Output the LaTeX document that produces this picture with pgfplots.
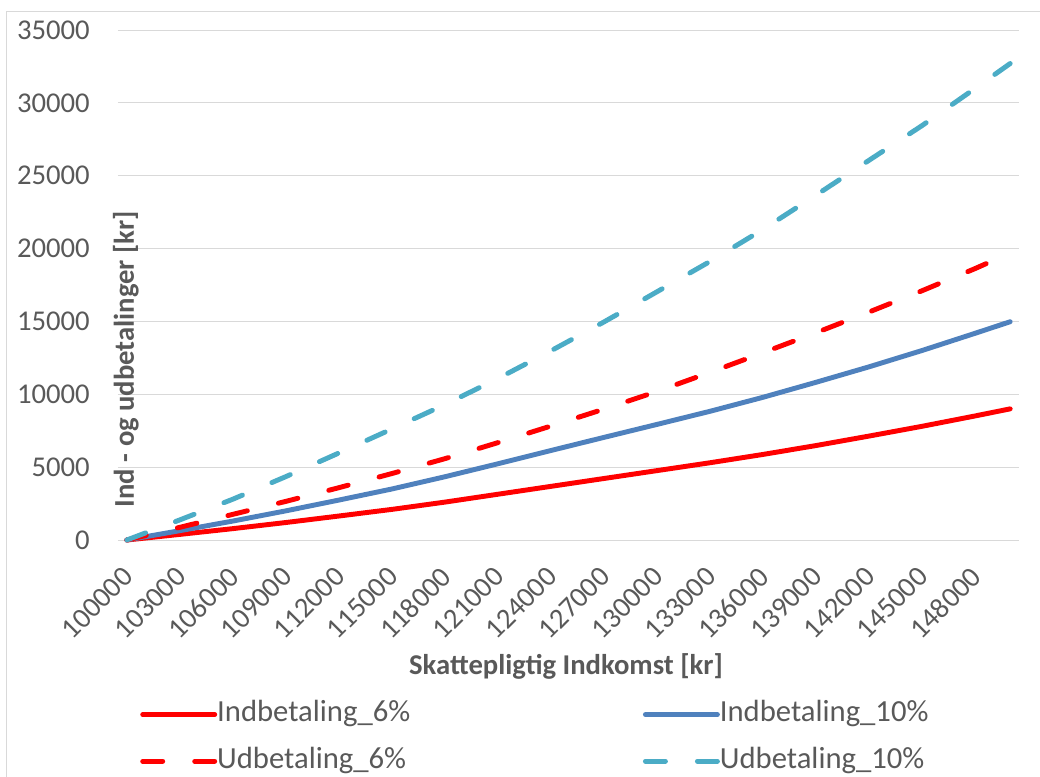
\documentclass[border=0pt]{standalone}
\usepackage{pgfplots}
\pgfplotsset{compat=1.18}
\usepackage{pgfplotstable}
\usepackage{fontspec}
\setmainfont{Carlito}

\definecolor{txt}{HTML}{595959}
\definecolor{gridc}{HTML}{D9D9D9}
\definecolor{ind6}{HTML}{FF0000}
\definecolor{ind10}{HTML}{4F81BD}
\definecolor{udb10}{HTML}{4BACC6}

% Skattepligtig indkomst [kr] mod ind- og udbetalinger [kr]
\pgfplotstableread{
x      I6    I10    U6     U10
100000 0     0      0      0
103000 385   640    870    1380
106000 780   1300   1760   2800
109000 1200  2000   2650   4350
112000 1645  2740   3590   5970
115000 2100  3500   4560   7620
118000 2600  4340   5580   9290
121000 3140  5230   6680   11080
124000 3680  6140   7820   12980
127000 4220  7040   8980   14960
130000 4760  7930   10190  17030
133000 5300  8830   11500  19110
136000 5870  9790   12850  21310
139000 6480  10820  14220  23660
142000 7130  11880  15640  26050
145000 7800  13000  17100  28430
148000 8510  14180  18620  30980
150000 9000  14980  19700  32700
}\betalinger

\begin{document}
\begin{tikzpicture}[x=0.75pt,y=0.75pt]
\begin{axis}[
    width=675.75pt, height=382.5pt, scale only axis,
    xmin=99500, xmax=150500, ymin=0, ymax=35000,
    xtick={100000,103000,106000,109000,112000,115000,118000,121000,124000,127000,130000,133000,136000,139000,142000,145000,148000},
    ytick={0,5000,10000,15000,20000,25000,30000,35000},
    scaled x ticks=false, scaled y ticks=false,
    /pgf/number format/.cd, fixed, precision=0, 1000 sep={}, assume math mode=true,
    /pgfplots/.cd,
    axis line style={draw=none},
    major tick length=0pt,
    ymajorgrids, grid style={gridc, line width=0.75pt},
    tick label style={font=\fontsize{21.5}{24}\selectfont, text=txt, inner sep=0pt},
    xticklabel style={xshift=1pt, yshift=-24pt, rotate=45, anchor=east},
    yticklabel style={anchor=east, xshift=-21pt},
    clip=false,
    legend columns=2,
    legend cell align=left,
    legend image code/.code={\draw[#1] (0pt,0pt) -- (54pt,0pt);},
    legend style={draw=none, fill=none, inner sep=0pt,
        at={(axis description cs:0.0244,-0.3118)}, anchor=north west,
        font=\fontsize{23}{27}\selectfont, text=txt,
        nodes={inner sep=0pt, text height=17pt, text depth=6pt},
        row sep=11.9pt,
        /tikz/every odd column/.append style={column sep=0pt},
        /tikz/every even column/.append style={column sep=174.5pt}},
    every axis plot/.append style={line width=3.7pt, line cap=round, line join=round},
]
\addplot[ind6] table[x=x, y=I6] {\betalinger};
\addlegendentry{Indbetaling\_6\%}
\addplot[ind10] table[x=x, y=I10] {\betalinger};
\addlegendentry{Indbetaling\_10\%}
\addplot[ind6, dash pattern=on 15pt off 24pt] table[x=x, y=U6] {\betalinger};
\addlegendentry{Udbetaling\_6\%}
\addplot[udb10, dash pattern=on 15pt off 24pt] table[x=x, y=U10] {\betalinger};
\addlegendentry{Udbetaling\_10\%}
\coordinate (O) at (rel axis cs:0,0);
\end{axis}
\node[rotate=90, anchor=base, font=\bfseries\fontsize{21.5}{24}\selectfont, text=txt] at ([shift={(16,181)}]O) {Ind - og udbetalinger [kr]};
\node[anchor=base, font=\bfseries\fontsize{21.5}{24}\selectfont, text=txt] at ([shift={(448,-134)}]O) {Skattepligtig Indkomst [kr]};
\draw[gridc, line width=0.75pt] ([shift={(-111,-260)}]O) -- ([shift={(-111,528)}]O) -- ([shift={(950,528)}]O);
\pgfresetboundingbox
\path[use as bounding box] ([shift={(-118,-236)}]O) rectangle ([shift={(922,540)}]O);
\end{tikzpicture}
\end{document}
